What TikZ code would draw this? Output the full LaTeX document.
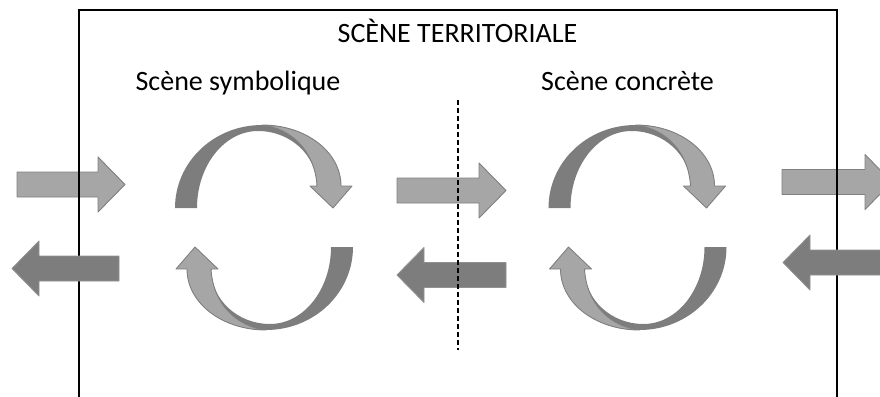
\documentclass[tikz,border=0pt]{standalone}
\usepackage{fontspec}
\setmainfont{Carlito}

\definecolor{ribbonlight}{RGB}{166,166,166}
\definecolor{ribbondark}{RGB}{125,125,125}
\definecolor{ribbonedge}{RGB}{128,128,128}
\definecolor{darkedge}{RGB}{145,145,145}

\tikzset{
  lightpart/.style={fill=ribbonlight, draw=ribbonedge, line width=0.9pt, line join=round},
  darkpart/.style={fill=ribbondark, draw=darkedge, line width=0.9pt, line join=round},
  scenetitle/.style={font=\fontsize{28}{31}\selectfont, inner sep=0pt, anchor=base},
  % flat arrow, tail at the origin, pointing right, #1 = length
  pics/blockarrow/.style={code={
    \path[pic actions] (0,-12.5) -- (#1-27,-12.5) -- (#1-27,-27.5) -- (#1,0)
      -- (#1-27,27.5) -- (#1-27,12.5) -- (0,12.5) -- cycle;
  }},
  % upper half of a turning arrow, origin at the centre of the loop
  pics/halfloop/.style={code={
    % back face of the ribbon
    \fill[ribbondark] (-89,-19.5) .. controls (-89,-65.5) and (-50,-102.5) .. (-2,-102.5)
      .. controls (42,-102.5) and (77,-75.5) .. (77,-41.5) -- (53,-41.5)
      .. controls (53,-71.5) and (27,-96.5) .. (-6,-96.5)
      .. controls (-40,-96.5) and (-67,-61.5) .. (-67,-19.5) -- cycle;
    % front face with the head
    \filldraw[lightpart] (-2,-102.5) .. controls (42,-102.5) and (77,-75.5) .. (77,-41.5)
      -- (88,-41.5) -- (69,-19.5) -- (46,-41.5) -- (53,-41.5)
      .. controls (51,-77.5) and (26,-99.5) .. (-2,-102.5) -- cycle;
  }},
}

\begin{document}
\begin{tikzpicture}[x=1pt, y=-1pt]
\clip (0,0) rectangle (880,396);

% exchanges going right
\pic[lightpart] (inleft) at (17,184.5) {blockarrow=108};
\pic[lightpart] (inmid) at (397,190.5) {blockarrow=109};
\pic[lightpart] (inright) at (782,182) {blockarrow=110};

% territory frame, open at the bottom
\draw[line width=2pt] (79,400) -- (79,10) -- (837,10) -- (837,400);

% exchanges going left
\pic[darkpart, xscale=-1] (outleft) at (119,268.5) {blockarrow=107};
\pic[darkpart, xscale=-1] (outmid) at (506,275) {blockarrow=109};
\pic[darkpart, xscale=-1] (outright) at (900,262.5) {blockarrow=117};

% the two scenes and their loops
\pic (symtop) at (264,227.5) {halfloop};
\pic[rotate=180] (symbot) at (264,227.5) {halfloop};
\pic (contop) at (637.5,227.5) {halfloop};
\pic[rotate=180] (conbot) at (637.5,227.5) {halfloop};

% divider between the scenes
\coordinate (divtop) at (458,100);
\coordinate (divbot) at (458,350);
\draw[line width=1.2pt, dash pattern=on 5pt off 3pt] (divtop) -- (divbot);

\node[scenetitle] (territoire) at (457.5,43) {SCÈNE TERRITORIALE};
\node[scenetitle] (symbolique) at (238,90) {Scène symbolique};
\node[scenetitle] (concrete) at (627.5,90) {Scène concrète};
\end{tikzpicture}
\end{document}
